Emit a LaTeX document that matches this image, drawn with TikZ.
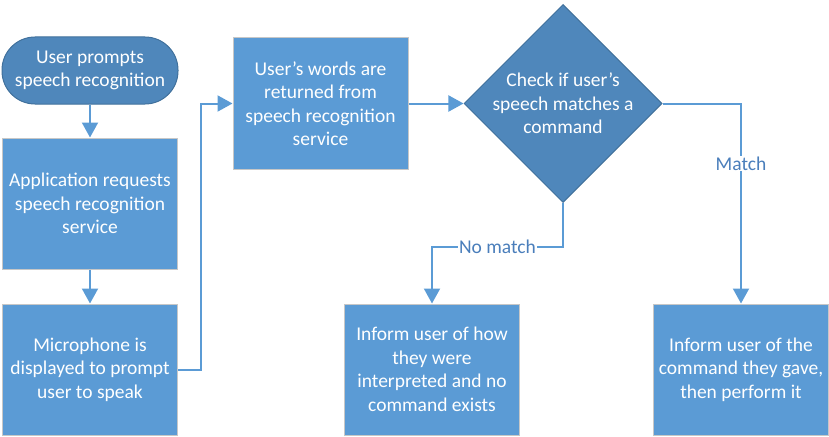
\documentclass[tikz,border=0pt]{standalone}
\usepackage{fontspec}
\setmainfont{Carlito}
\usetikzlibrary{arrows.meta,shapes.geometric,positioning}

\definecolor{boxblue}{HTML}{5B9BD5}
\definecolor{darkblue}{HTML}{4F87BB}
\definecolor{edgeblue}{HTML}{41719C}
\definecolor{labelblue}{HTML}{4A7EBB}

\tikzset{
  flowtext/.style={font=\fontsize{19.5pt}{23.5pt}\selectfont, align=center},
  terminal/.style={flowtext, rectangle, rounded corners=33pt, fill=darkblue,
    draw=edgeblue, line width=1pt, text=white, minimum width=176pt, minimum height=67pt},
  process/.style={flowtext, rectangle, fill=boxblue, draw=black!22, line width=1pt,
    text=white, minimum width=175pt, minimum height=131pt, inner sep=2pt},
  decision/.style={flowtext, diamond, aspect=1, fill=darkblue, draw=edgeblue,
    line width=1pt, text=white, inner sep=-4pt, minimum width=198pt, minimum height=198pt},
  flow/.style={draw=boxblue, line width=2pt, -{Triangle[length=15pt,width=16pt]}},
  branch/.style={flowtext, text=labelblue, fill=white, inner sep=1pt}
}

\begin{document}
\begin{tikzpicture}[node distance=33pt]
  \useasboundingbox (0,0) rectangle (829pt,-436pt);

  \node [terminal] (prompt) at (90pt,-70.5pt) {User prompts\\speech recognition};
  \node [process] (request) [below = 33pt of prompt] {Application requests\\speech recognition\\service};
  \node [process] (mic) [below = 34pt of request] {Microphone is\\displayed to prompt\\user to speak};

  \node [process] (words) at (320.5pt,-103.5pt) {User’s words are\\returned from\\speech recognition\\service};
  \node [decision] (check) [right = 55pt of words] {Check if user’s\\speech matches a\\command};

  \node [process] (nomatch) [right = 166pt of mic] {Inform user of how\\they were\\interpreted and no\\command exists};
  \node [process] (perform) [right = 133pt of nomatch] {Inform user of the\\command they gave,\\then perform it};

  \path [flow] (prompt) -- (request);
  \path [flow] (request) -- (mic);
  \path [flow] (mic.east) -- ++(23pt,0) |- (words.west);
  \path [flow] (words) -- (check);
  \path [flow] (check.south) -- ++(0,-44pt) -| node [branch, pos=0.25] {No match} (nomatch.north);
  \path [flow] (check.east) -| node [branch, pos=0.65] {Match} (perform.north);
\end{tikzpicture}
\end{document}
